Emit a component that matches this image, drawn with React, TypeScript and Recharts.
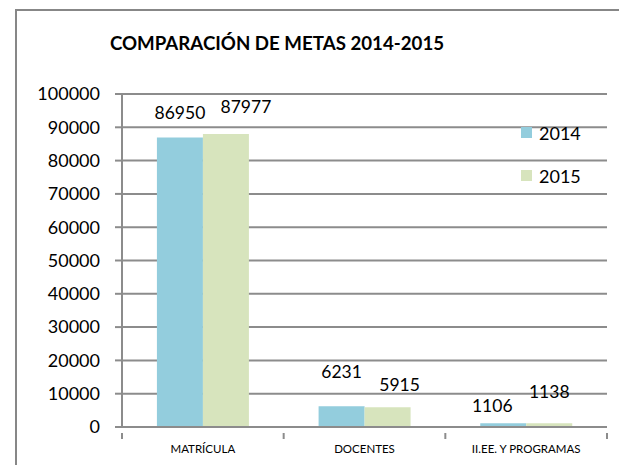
import React from "react";
import {
    BarChart,
    Bar,
    XAxis,
    YAxis,
    CartesianGrid,
    LabelList,
} from "recharts";

const categories = ["MATRÍCULA", "DOCENTES", "II.EE. Y PROGRAMAS"];
const metas2014 = [86950, 6231, 1106];
const metas2015 = [87977, 5915, 1138];
const yTicks = [0, 10000, 20000, 30000, 40000, 50000, 60000, 70000, 80000, 90000, 100000];

const data = categories.map((name, i) => ({
    name,
    y2014: metas2014[i],
    y2015: metas2015[i],
}));

// label nudges, copied from how the labels sit in the original excel chart
const labelShift: Record<string, [number, number][]> = {
    y2014: [[0, -12], [0, -22], [-11, -5]],
    y2015: [[20, -15], [12, -10], [0, -19]],
};

const COLORS = { y2014: "#93CDDD", y2015: "#D7E4BD" };
const FONT = "Lato, 'Open Sans', sans-serif";
const GRID = "#8c8c8c";

const W = 619;
const H = 465;
const M = { top: 94, right: 12, bottom: 8, left: 0 };
const Y_AXIS_W = 122;
const BAND = (W - M.left - Y_AXIS_W - M.right) / categories.length;

const makeLabel = (key: string) => (props: any) => {
    const { x, y, width, value, index } = props;
    const [dx, dy] = labelShift[key][index] || [0, 0];
    return (
        <text
            x={x + width / 2 + dx}
            y={y - 6 + dy}
            textAnchor="middle"
            fontSize={17.5}
            fontFamily={FONT}
            fill="#000"
        >
            {value}
        </text>
    );
};

const CategoryTick = (props: any) => {
    const { x, y, payload, index } = props;
    return (
        <g>
            {index === 0 && (
                <line x1={x - BAND / 2} y1={y - 2} x2={x - BAND / 2} y2={y + 4} stroke={GRID} strokeWidth={2} />
            )}
            <line x1={x + BAND / 2} y1={y - 2} x2={x + BAND / 2} y2={y + 4} stroke={GRID} strokeWidth={2} />
            <text x={x} y={y + 18} textAnchor="middle" fontSize={11.5} fontFamily={FONT} fill="#000">
                {payload.value}
            </text>
        </g>
    );
};

const legendItems = [
    { label: "2014", color: COLORS.y2014 },
    { label: "2015", color: COLORS.y2015 },
];

const LegendBox = () => (
    <div style={{ position: "absolute", left: 521, top: 111, fontFamily: FONT, fontSize: 18, color: "#000" }}>
        {legendItems.map((item) => (
            <div key={item.label} style={{ display: "flex", alignItems: "center", height: 43 }}>
                <span style={{ width: 11, height: 11, background: item.color, marginRight: 7 }} />
                <span>{item.label}</span>
            </div>
        ))}
    </div>
);

export default function App() {
    return (
        <div style={{ position: "absolute", left: 0, top: 0, width: W, height: H, background: "#fff" }}>
            <div
                style={{
                    position: "absolute",
                    left: 15,
                    top: 9,
                    width: W - 15,
                    height: H - 9,
                    borderLeft: "2px solid #878787",
                    borderTop: "2px solid #878787",
                }}
            />
            <div
                style={{
                    position: "absolute",
                    left: 0,
                    width: 554,
                    top: 32,
                    textAlign: "center",
                    fontFamily: FONT,
                    fontWeight: 700,
                    fontSize: 18.7,
                }}
            >
                COMPARACIÓN DE METAS 2014-2015
            </div>
            <div style={{ position: "absolute", left: 0, top: 0 }}>
                <BarChart width={W} height={H} data={data} margin={M} barGap={0} barCategoryGap="21.6%">
                    <CartesianGrid horizontal vertical={false} stroke={GRID} strokeWidth={2} />
                    <XAxis
                        dataKey="name"
                        height={30}
                        axisLine={{ stroke: GRID, strokeWidth: 2 }}
                        tickLine={false}
                        tick={<CategoryTick />}
                        interval={0}
                    />
                    <YAxis
                        width={Y_AXIS_W}
                        domain={[0, 100000]}
                        ticks={yTicks}
                        interval={0}
                        axisLine={{ stroke: GRID, strokeWidth: 2 }}
                        tickLine={{ stroke: GRID, strokeWidth: 2 }}
                        tickSize={7}
                        tickMargin={15}
                        tick={{ fontSize: 18, fontFamily: FONT, fill: "#000" }}
                    />
                    <Bar dataKey="y2014" name="2014" fill={COLORS.y2014} isAnimationActive={false}>
                        <LabelList dataKey="y2014" content={makeLabel("y2014")} />
                    </Bar>
                    <Bar dataKey="y2015" name="2015" fill={COLORS.y2015} isAnimationActive={false}>
                        <LabelList dataKey="y2015" content={makeLabel("y2015")} />
                    </Bar>
                </BarChart>
            </div>
            <LegendBox />
        </div>
    );
}
